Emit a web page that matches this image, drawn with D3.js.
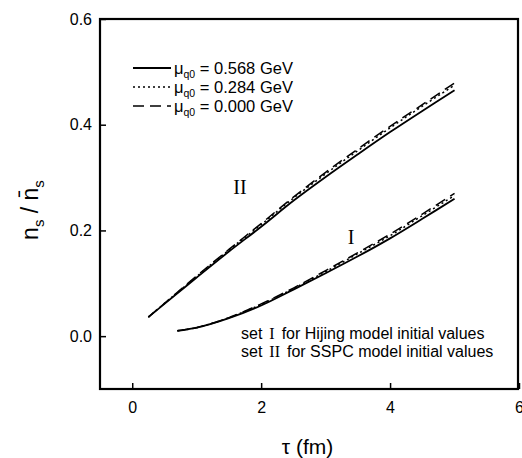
<!DOCTYPE html>
<html>
  <head>
    <meta charset="utf-8">
    <style>
      body { margin: 0; background: #fff; }
      text { font-family: "Liberation Sans", Arial, sans-serif; fill: #000; }
      .roman { font-family: "Liberation Serif", "Times New Roman", serif; }
    </style>
  </head>
  <body>
    <div id="my_dataviz"></div>
  </body>
</html>

<script src="https://d3js.org/d3.v7.min.js"></script>

<script>

    // values
    var setI_tau = [0.7, 1.0, 1.5, 2.0, 2.5, 3.0, 3.5, 4.0, 4.5, 5.0]
    var setI_mu568 = [0.010, 0.016, 0.034, 0.058, 0.088, 0.119, 0.151, 0.185, 0.222, 0.260]
    var setI_mu284 = [0.010, 0.016, 0.035, 0.060, 0.090, 0.122, 0.156, 0.190, 0.228, 0.266]
    var setI_mu000 = [0.010, 0.016, 0.035, 0.061, 0.091, 0.124, 0.158, 0.193, 0.231, 0.270]

    var setII_tau = [0.25, 0.5, 1.0, 1.5, 2.0, 2.5, 3.0, 3.5, 4.0, 4.5, 5.0]
    var setII_mu568 = [0.036, 0.061, 0.111, 0.160, 0.207, 0.256, 0.301, 0.344, 0.386, 0.426, 0.465]
    var setII_mu284 = [0.036, 0.062, 0.113, 0.163, 0.211, 0.261, 0.307, 0.351, 0.394, 0.435, 0.475]
    var setII_mu000 = [0.036, 0.062, 0.114, 0.164, 0.213, 0.263, 0.310, 0.354, 0.397, 0.438, 0.479]

    var xTicks = [0, 2, 4, 6]
    var yTicks = [0.0, 0.2, 0.4, 0.6]
    var legendLabels = ["0.568", "0.284", "0.000"]

    var width = 522
        height = 458
    var margin = {left: 100, right: 3, top: 19, bottom: 69}

    var svg = d3.select("#my_dataviz")
      .append("svg")
        .attr("width", width)
        .attr("height", height)

    var x = d3.scaleLinear().domain([-0.5, 6]).range([margin.left, width - margin.right])
    var y = d3.scaleLinear().domain([-0.1, 0.6]).range([height - margin.bottom, margin.top])

    // axes: ticks point inward
    svg.append("g")
      .attr("transform", "translate(0," + y(-0.1) + ")")
      .call(d3.axisBottom(x).tickValues(xTicks).tickSizeInner(-6).tickSizeOuter(0).tickPadding(13).tickFormat(d3.format("d")))
      .call(function(g) { g.select(".domain").remove() })
      .call(function(g) { g.selectAll("line").attr("stroke-width", 1.5) })
      .selectAll("text").attr("font-size", 16).attr("font-family", "Liberation Sans, Arial, sans-serif")

    svg.append("g")
      .attr("transform", "translate(" + x(-0.5) + ",0)")
      .call(d3.axisLeft(y).tickValues(yTicks).tickSizeInner(-6).tickSizeOuter(0).tickPadding(8).tickFormat(d3.format(".1f")))
      .call(function(g) { g.select(".domain").remove() })
      .call(function(g) { g.selectAll("line").attr("stroke-width", 1.5) })
      .selectAll("text").attr("font-size", 16).attr("font-family", "Liberation Sans, Arial, sans-serif")

    // frame
    svg.append("rect")
      .attr("x", x(-0.5)).attr("y", y(0.6))
      .attr("width", x(6) - x(-0.5) - 1).attr("height", y(-0.1) - y(0.6))
      .attr("fill", "none").attr("stroke", "black").attr("stroke-width", 2.2)

    var styles = [
      {dash: null, width: 1.8},
      {dash: "2,3", width: 1.5},
      {dash: "11,6", width: 1.5}
    ]

    var line = d3.line()
      .x(function(d) { return x(d[0]) })
      .y(function(d) { return y(d[1]) })
      .curve(d3.curveCatmullRom.alpha(0.5))

    var curves = [
      [setI_tau, setI_mu568, 0], [setI_tau, setI_mu284, 1], [setI_tau, setI_mu000, 2],
      [setII_tau, setII_mu568, 0], [setII_tau, setII_mu284, 1], [setII_tau, setII_mu000, 2]
    ]

    curves.forEach(function(c) {
      var pts = c[0].map(function(t, i) { return [t, c[1][i]] })
      svg.append("path")
        .attr("d", line(pts))
        .attr("fill", "none")
        .attr("stroke", "black")
        .attr("stroke-width", styles[c[2]].width)
        .attr("stroke-dasharray", styles[c[2]].dash)
    })

    // legend
    legendLabels.forEach(function(lab, i) {
      var ly = 68 + i * 19
      svg.append("line")
        .attr("x1", 133).attr("x2", 171).attr("y1", ly).attr("y2", ly)
        .attr("stroke", "black")
        .attr("stroke-width", styles[i].width)
        .attr("stroke-dasharray", styles[i].dash)
      var t = svg.append("text").attr("x", 174).attr("y", ly + 6).attr("font-size", 16.5)
      t.append("tspan").text("\u03bc")
      t.append("tspan").attr("dy", 4).attr("font-size", 10.5).text("q0")
      t.append("tspan").attr("dy", -4).text(" = " + lab + " GeV")
    })

    // set labels on the curves
    svg.append("text").attr("class", "roman").attr("x", 240).attr("y", 194)
      .attr("text-anchor", "middle").attr("font-size", 20).text("II")
    svg.append("text").attr("class", "roman").attr("x", 351).attr("y", 244)
      .attr("text-anchor", "middle").attr("font-size", 20).text("I")

    var notes = [["I", "for Hijing model initial values"], ["II", "for SSPC model initial values"]]
    notes.forEach(function(n, i) {
      var t = svg.append("text").attr("x", 241).attr("y", 339 + i * 18).attr("font-size", 16)
      t.append("tspan").text("set")
      t.append("tspan").attr("class", "roman").attr("dx", 7).attr("font-size", 16).text(n[0])
      t.append("tspan").attr("dx", 7).text(n[1])
    })

    // axis titles
    svg.append("text")
      .attr("x", (x(-0.5) + x(6)) / 2 - 2).attr("y", 454)
      .attr("text-anchor", "middle").attr("font-size", 21)
      .text("\u03c4 (fm)")

    var yt = svg.append("text")
      .attr("transform", "translate(38,210) rotate(-90)")
      .attr("text-anchor", "middle").attr("font-size", 23)
    yt.append("tspan").text("n")
    yt.append("tspan").attr("dy", 6).attr("font-size", 15).text("s")
    yt.append("tspan").attr("dy", -6).text(" / n\u0304")
    yt.append("tspan").attr("dy", 6).attr("font-size", 15).text("s")

</script>
